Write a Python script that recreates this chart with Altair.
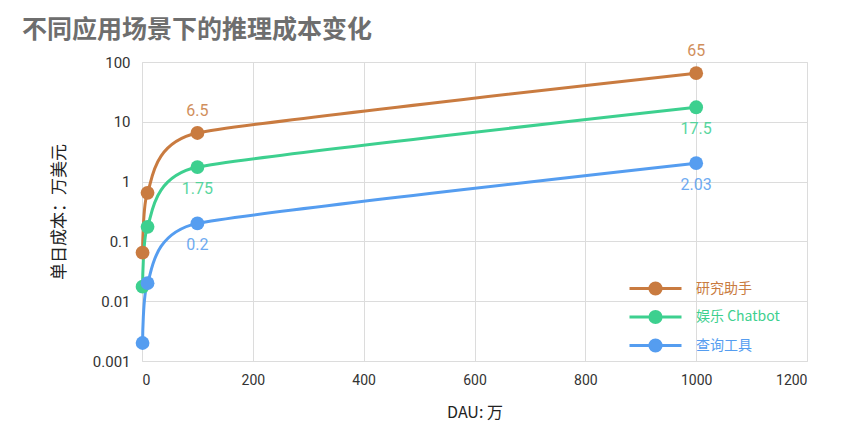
import altair as alt
import pandas as pd

dau = [1, 10, 100, 1000]
series_names = ["研究助手", "娱乐 Chatbot", "查询工具"]
research = [0.065, 0.65, 6.5, 65]
chatbot = [0.0175, 0.175, 1.75, 17.5]
query = [0.002, 0.02, 0.2, 2.03]
label_at = [100, 1000]
colors = ["#C97B40", "#3DD08F", "#559DF0"]
y_ticks = [0.001, 0.01, 0.1, 1, 10, 100]
x_ticks = [0, 200, 400, 600, 800, 1000, 1200]

rows = []
for name, vals in zip(series_names, [research, chatbot, query]):
    for x, v in zip(dau, vals):
        rows.append({"series": name, "dau": x, "cost": v})
df = pd.DataFrame(rows)

FONT = "Roboto"
CJK = "Noto Sans CJK SC"

color = alt.Color(
    "series:N",
    scale=alt.Scale(domain=series_names, range=colors),
    legend=alt.Legend(
        title=None,
        orient="none",
        legendX=486,
        legendY=217,
        padding=0,
        symbolType="M-1,0H5.5M2.95,0A0.7,0.7 0 1,1 1.55,0A0.7,0.7 0 1,1 2.95,0Z",
        symbolSize=256,
        symbolStrokeWidth=3,
        symbolFillColor={"expr": "scale('color', datum.value)"},
        symbolStrokeColor={"expr": "scale('color', datum.value)"},
        labelColor={"expr": "scale('color', datum.value)"},
        labelFont=CJK,
        labelFontSize=14,
        labelOffset=49,
        rowPadding=3.5,
    ),
)

x = alt.X(
    "dau:Q",
    scale=alt.Scale(domain=[0, 1200], nice=False),
    axis=alt.Axis(
        values=x_ticks, format="d", title="DAU: 万", titleFont=CJK, titleFontSize=16,
        titleFontWeight="normal", titleColor="#222", titlePadding=17,
        labelFont=FONT, labelFontSize=14, labelColor="#333", labelPadding=12,
        ticks=False, domain=False, gridColor="#dcdcdc",
    ),
)
y = alt.Y(
    "cost:Q",
    scale=alt.Scale(type="log", domain=[0.001, 100], nice=False),
    axis=alt.Axis(
        values=y_ticks, format="~g", title="单日成本：万美元", titleFont=CJK,
        titleFontSize=17, titleFontWeight="normal", titleColor="#222",
        titlePadding=24, labelFont=FONT, labelFontSize=15, labelColor="#333",
        labelPadding=12, ticks=False, domain=False, gridColor="#dcdcdc",
    ),
)

base = alt.Chart(df)
lines = base.mark_line(interpolate="cardinal", tension=0.5, strokeWidth=3).encode(x=x, y=y, color=color)
points = base.mark_circle(size=190, opacity=1).encode(x="dau:Q", y="cost:Q", color=alt.Color("series:N", legend=None))

lab = base.transform_filter(alt.FieldOneOfPredicate(field="dau", oneOf=label_at))
above = lab.transform_filter(alt.datum.series == series_names[0]).mark_text(
    dy=-22, font=FONT, fontSize=16, opacity=0.85
).encode(x="dau:Q", y="cost:Q", text=alt.Text("cost:Q", format="~g"), color=alt.Color("series:N", legend=None))
below = lab.transform_filter(alt.datum.series != series_names[0]).mark_text(
    dy=22, font=FONT, fontSize=16, opacity=0.85
).encode(x="dau:Q", y="cost:Q", text=alt.Text("cost:Q", format="~g"), color=alt.Color("series:N", legend=None))

chart = alt.layer(lines, points, above, below).properties(
    width=665,
    height=299,
    autosize=alt.AutoSizeParams(type="none"),
    padding={"left": 142, "top": 62, "right": 36, "bottom": 87},
    title=alt.TitleParams(
        "不同应用场景下的推理成本变化", anchor="start", frame="group", font=CJK, fontSize=25,
        fontWeight="bold", color="#6e6e6e", dx=-120, offset=0,
    ),
).configure_view(stroke="#dcdcdc")

chart.save("out.html", embed_options={"renderer": "svg", "actions": False})
